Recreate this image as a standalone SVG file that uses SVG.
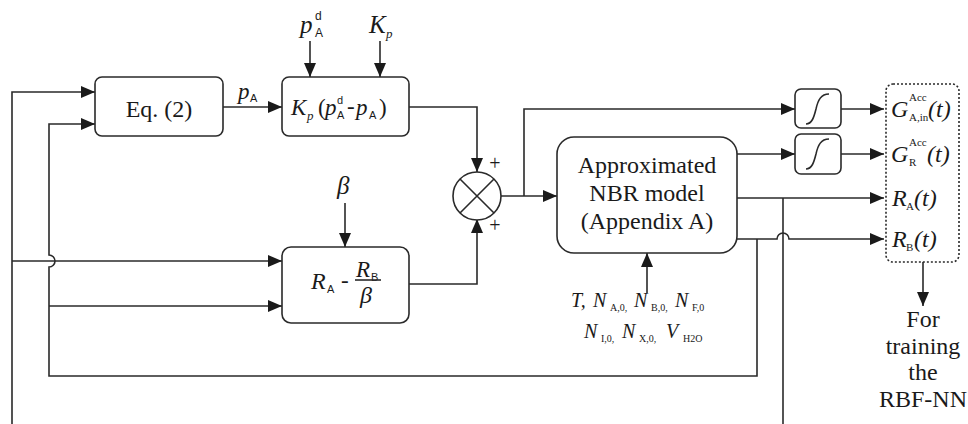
<svg xmlns="http://www.w3.org/2000/svg" width="968" height="424" viewBox="0 0 968 424">
<defs>
<marker id="ah" viewBox="0 0 14 12" refX="14" refY="6" markerWidth="14" markerHeight="12" orient="auto" markerUnits="userSpaceOnUse"><path d="M0,0 L14,6 L0,12 z" fill="#1a1a1a"/></marker>
<style>
.ln{fill:none;stroke:#2a2a2a;stroke-width:1.6}
.bx{fill:#fff;stroke:#2a2a2a;stroke-width:1.6}
.t{font-family:"Liberation Serif","Times New Roman",serif;fill:#1a1a1a}
.i{font-family:"Liberation Serif","Times New Roman",serif;font-style:italic;fill:#1a1a1a}
.s{font-family:"Liberation Sans",Arial,sans-serif;fill:#1a1a1a}
</style>
</defs>
<rect width="968" height="424" fill="#fff"/>
<g id="connectors">
<path class="ln" d="M12,424 V92 H95" marker-end="url(#ah)"/>
<path class="ln" d="M12,261 H282" marker-end="url(#ah)"/>
<path class="ln" d="M757,239 V376 H49 V267 A6,6 0 0 0 49,255 V124 H95" marker-end="url(#ah)"/>
<path class="ln" d="M49,306 H282" marker-end="url(#ah)"/>
<path class="ln" d="M223,107 H282" marker-end="url(#ah)"/>
<path class="ln" d="M310,41 V77" marker-end="url(#ah)"/>
<path class="ln" d="M380,41 V77" marker-end="url(#ah)"/>
<path class="ln" d="M345,203 V247" marker-end="url(#ah)"/>
<path class="ln" d="M409,107 H477 V172" marker-end="url(#ah)"/>
<path class="ln" d="M409,284 H477 V219" marker-end="url(#ah)"/>
<path class="ln" d="M501,196 H557" marker-end="url(#ah)"/>
<path class="ln" d="M524,196 V109 H795" marker-end="url(#ah)"/>
<path class="ln" d="M737,154 H795" marker-end="url(#ah)"/>
<path class="ln" d="M841,109 H884" marker-end="url(#ah)"/>
<path class="ln" d="M841,154 H884" marker-end="url(#ah)"/>
<path class="ln" d="M737,198 H884" marker-end="url(#ah)"/>
<path class="ln" d="M783,198 V424"/>
<path class="ln" d="M737,239 H777 A6,6 0 0 1 789,239 H884" marker-end="url(#ah)"/>
<path class="ln" d="M647,293 V253" marker-end="url(#ah)"/>
<path class="ln" d="M923,262 V306" marker-end="url(#ah)"/>
</g>
<g id="eq2">
<rect class="bx" x="95" y="77" width="128" height="59" rx="7"/>
<text class="t" x="159" y="117" font-size="24" text-anchor="middle">Eq. (2)</text>
</g>
<g id="pA-label">
<text class="i" x="238" y="99" font-size="23">p</text>
<text class="s" x="250" y="102" font-size="11">A</text>
</g>
<g id="pdA-input">
<text class="i" x="300" y="33" font-size="25">p</text>
<text class="s" x="315" y="20" font-size="12">d</text>
<text class="s" x="315" y="37" font-size="12">A</text>
</g>
<g id="Kp-input">
<text class="i" x="369" y="33" font-size="25">K</text>
<text class="i" x="386" y="38" font-size="13">p</text>
</g>
<g id="kp-block">
<rect class="bx" x="282" y="77" width="127" height="59" rx="7"/>
<text class="i" x="291" y="115" font-size="23">K</text>
<text class="i" x="307" y="120" font-size="13">p</text>
<text class="t" x="318" y="115" font-size="23">(</text>
<text class="i" x="325" y="115" font-size="23">p</text>
<text class="s" x="337" y="104" font-size="11">d</text>
<text class="s" x="337" y="119" font-size="11">A</text>
<text class="t" x="347" y="114" font-size="23">-</text>
<text class="i" x="356" y="115" font-size="23">p</text>
<text class="s" x="369" y="119" font-size="11">A</text>
<text class="t" x="379" y="115" font-size="23">)</text>
</g>
<g id="beta-input">
<text class="i" x="337" y="194" font-size="25">β</text>
</g>
<g id="ratio-block">
<rect class="bx" x="282" y="247" width="127" height="76" rx="9"/>
<text class="i" x="311" y="289" font-size="24">R</text>
<text class="s" x="327" y="293" font-size="11">A</text>
<text class="t" x="341" y="288" font-size="23">-</text>
<text class="i" x="356" y="277" font-size="23">R</text>
<text class="s" x="371" y="281" font-size="11">B</text>
<path class="ln" d="M355,280 H381" stroke-width="1.3"/>
<text class="i" x="360" y="303" font-size="24">β</text>
</g>
<g id="sum">
<circle class="bx" cx="477" cy="196" r="24"/>
<path class="ln" d="M460,179 L494,213 M494,179 L460,213" stroke-width="1.2"/>
<text class="t" x="495" y="170" font-size="20" text-anchor="middle">+</text>
<text class="t" x="495" y="232" font-size="20" text-anchor="middle">+</text>
</g>
<g id="nbr-model">
<rect class="bx" x="557" y="137" width="180" height="116" rx="17"/>
<text class="t" x="647" y="173" font-size="24" text-anchor="middle">Approximated</text>
<text class="t" x="647" y="201" font-size="24" text-anchor="middle">NBR model</text>
<text class="t" x="647" y="229" font-size="24" text-anchor="middle">(Appendix A)</text>
</g>
<g id="nbr-params">
<text class="i" x="571" y="307" font-size="20">T,</text>
<text class="i" x="593" y="307" font-size="20">N</text>
<text class="t" x="610" y="311" font-size="10">A,0,</text>
<text class="i" x="634" y="307" font-size="20">N</text>
<text class="t" x="651" y="311" font-size="10">B,0,</text>
<text class="i" x="675" y="307" font-size="20">N</text>
<text class="t" x="692" y="311" font-size="10">F,0</text>
<text class="i" x="584" y="338" font-size="20">N</text>
<text class="t" x="601" y="342" font-size="10">I,0,</text>
<text class="i" x="622" y="338" font-size="20">N</text>
<text class="t" x="639" y="342" font-size="10">X,0,</text>
<text class="i" x="666" y="338" font-size="20">V</text>
<text class="t" x="683" y="342" font-size="10">H2O</text>
</g>
<g id="integrator-1">
<rect class="bx" x="795" y="89" width="46" height="39" rx="6"/>
<path class="ln" d="M806,124 C812,124 814,117 816,109 C818,100 821,94 829,94"/>
</g>
<g id="integrator-2">
<rect class="bx" x="795" y="134" width="46" height="40" rx="6"/>
<path class="ln" d="M806,169 C812,169 814,162 816,154 C818,145 821,139 829,139"/>
</g>
<g id="outputs">
<rect x="886" y="84" width="73" height="178" rx="7" fill="none" stroke="#2a2a2a" stroke-width="1.6" stroke-dasharray="2,2"/>
<text class="i" x="891" y="117" font-size="24">G</text>
<text class="t" x="909" y="101" font-size="11">Acc</text>
<text class="t" x="909" y="121" font-size="11">A,in</text>
<text class="i" x="928" y="117" font-size="24">(t)</text>
<text class="i" x="891" y="162" font-size="24">G</text>
<text class="t" x="909" y="146" font-size="11">Acc</text>
<text class="t" x="909" y="166" font-size="11">R</text>
<text class="i" x="927" y="162" font-size="24">(t)</text>
<text class="i" x="892" y="206" font-size="24">R</text>
<text class="t" x="906" y="210" font-size="11">A</text>
<text class="i" x="914" y="206" font-size="24">(t)</text>
<text class="i" x="892" y="247" font-size="24">R</text>
<text class="t" x="906" y="251" font-size="11">B</text>
<text class="i" x="914" y="247" font-size="24">(t)</text>
</g>
<g id="training-note">
<text class="t" x="923" y="327" font-size="24" text-anchor="middle">For</text>
<text class="t" x="923" y="354" font-size="24" text-anchor="middle">training</text>
<text class="t" x="923" y="380" font-size="24" text-anchor="middle">the</text>
<text class="t" x="923" y="407" font-size="24" text-anchor="middle">RBF-NN</text>
</g>
</svg>
